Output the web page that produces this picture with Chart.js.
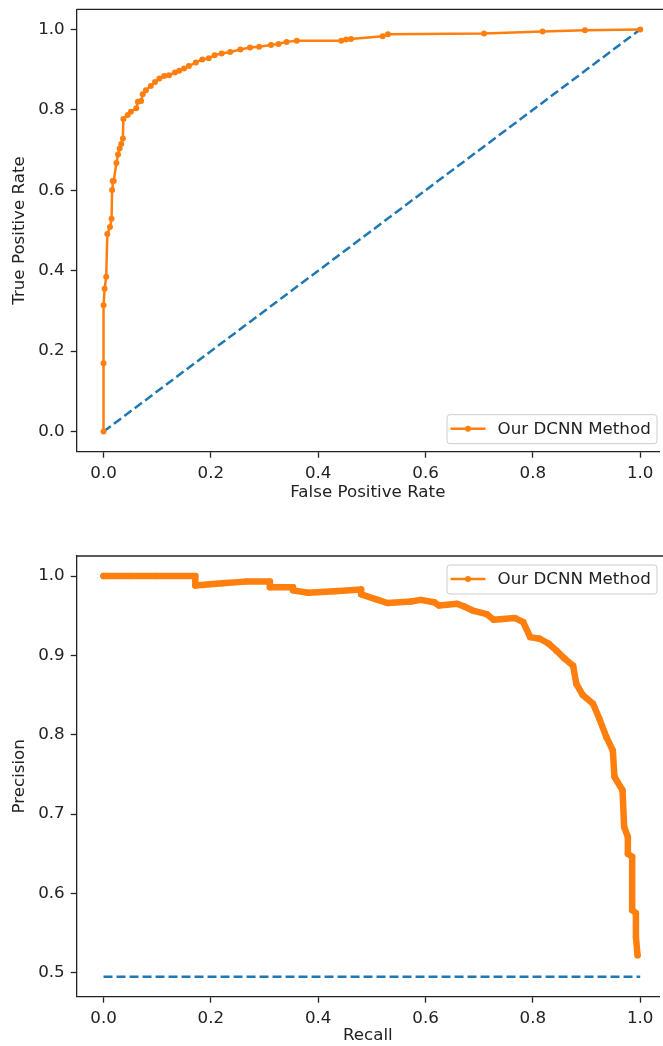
<!DOCTYPE html>
<html>
<head>
<meta charset="utf-8">
<script src="https://cdn.jsdelivr.net/npm/chart.js@4"></script>
<style>
  html, body { margin: 0; padding: 0; background: #fff; overflow: hidden; width: 663px; height: 1046px; }
  canvas { position: absolute; left: 0; }
  #rocChart { top: -13px; }
  #prChart { top: 530px; }
</style>
</head>
<body>
<canvas id="rocChart" width="663" height="543"></canvas>
<canvas id="prChart" width="663" height="516"></canvas>
<script>
// ROC curve points
const rocFpr = [0, 0, 0, 0.002, 0.005, 0.007, 0.012, 0.015, 0.016, 0.017, 0.019, 0.024, 0.027, 0.030, 0.033, 0.036, 0.037,
  0.045, 0.051, 0.061, 0.064, 0.070, 0.073, 0.079, 0.088, 0.096, 0.104, 0.113, 0.122, 0.133, 0.141, 0.150, 0.159,
  0.172, 0.184, 0.196, 0.207, 0.220, 0.236, 0.255, 0.273, 0.290, 0.312, 0.326, 0.341, 0.360, 0.443, 0.452, 0.461,
  0.520, 0.530, 0.709, 0.818, 0.897, 1.0];
const rocTpr = [0, 0.17, 0.314, 0.355, 0.385, 0.491, 0.509, 0.529, 0.601, 0.623, 0.623, 0.668, 0.689, 0.704, 0.715, 0.729, 0.777,
  0.787, 0.795, 0.804, 0.820, 0.822, 0.839, 0.849, 0.859, 0.869, 0.878, 0.884, 0.886, 0.893, 0.897, 0.903, 0.909,
  0.918, 0.925, 0.928, 0.936, 0.940, 0.944, 0.950, 0.955, 0.957, 0.961, 0.964, 0.969, 0.972, 0.972, 0.975, 0.976,
  0.983, 0.988, 0.990, 0.995, 0.998, 1.0];
const chanceX = [0, 1];
const chanceY = [0, 1];

// Precision-recall curve points
const prRecall = [0, 0.05, 0.10, 0.171, 0.171, 0.221, 0.264, 0.31, 0.31, 0.353, 0.353, 0.381, 0.431, 0.48, 0.48, 0.511,
  0.529, 0.573, 0.591, 0.616, 0.625, 0.659, 0.671, 0.69, 0.714, 0.727, 0.767, 0.782, 0.795, 0.813, 0.829, 0.844,
  0.859, 0.875, 0.881, 0.893, 0.912, 0.924, 0.937, 0.949, 0.952, 0.967, 0.970, 0.977, 0.977, 0.985, 0.985, 0.992,
  0.992, 0.995];
const prPrecision = [1.0, 1.0, 1.0, 1.0, 0.988, 0.991, 0.993, 0.993, 0.986, 0.986, 0.982, 0.979, 0.981, 0.983, 0.977, 0.970,
  0.966, 0.968, 0.970, 0.967, 0.963, 0.965, 0.962, 0.956, 0.952, 0.945, 0.947, 0.942, 0.923, 0.921, 0.915, 0.906,
  0.896, 0.887, 0.864, 0.850, 0.839, 0.820, 0.797, 0.780, 0.747, 0.730, 0.684, 0.671, 0.650, 0.646, 0.579, 0.575,
  0.545, 0.522];
const baselineX = [0, 1];
const baselineY = [0.495, 0.495];

const xTicks = [0, 0.2, 0.4, 0.6, 0.8, 1.0];
const rocYTicks = [0, 0.2, 0.4, 0.6, 0.8, 1.0];
const prYTicks = [0.5, 0.6, 0.7, 0.8, 0.9, 1.0];
const seriesLabel = 'Our DCNN Method';

// the original axes run to 1.05, past the right edge of the picture;
// the canvas stops at the value that sits on that edge
const X_MIN = -0.05;
const X_MAX_VISIBLE = 1.035;

const ORANGE = '#ff7f0e';
const BLUE = '#1f77b4';
const INK = '#222222';
const FONT = 16.7;

Chart.defaults.font.family = '"DejaVu Sans", sans-serif';
Chart.defaults.font.size = FONT;
Chart.defaults.color = INK;

const toPoints = (xs, ys) => xs.map((x, i) => ({ x: x, y: ys[i] }));

// top spine
const frame = {
  id: 'frame',
  afterDraw(chart) {
    const { ctx, chartArea: a } = chart;
    ctx.save();
    ctx.strokeStyle = INK;
    ctx.lineWidth = 1.3;
    ctx.beginPath();
    ctx.moveTo(a.left, a.top);
    ctx.lineTo(chart.width, a.top);
    ctx.stroke();
    ctx.restore();
  }
};

// matplotlib-like legend box inside the axes
const legendBox = {
  id: 'legendBox',
  afterDraw(chart, args, opts) {
    const { ctx, chartArea, scales } = chart;
    const w = 210, h = 29;
    const x = scales.x.getPixelForValue(1.0) + 16.3 - w;
    const y = opts.corner === 'top' ? chartArea.top + 8.5 : chartArea.bottom - 8.5 - h;
    ctx.save();
    ctx.beginPath();
    ctx.roundRect(x + 0.5, y + 0.5, w, h, 3);
    ctx.fillStyle = 'rgba(255,255,255,0.8)';
    ctx.fill();
    ctx.strokeStyle = '#cccccc';
    ctx.lineWidth = 1;
    ctx.stroke();
    const cy = y + h / 2;
    ctx.strokeStyle = ORANGE;
    ctx.lineWidth = 2.5;
    ctx.beginPath();
    ctx.moveTo(x + 4, cy);
    ctx.lineTo(x + 39, cy);
    ctx.stroke();
    ctx.fillStyle = ORANGE;
    ctx.beginPath();
    ctx.arc(x + 21.5, cy, 3, 0, Math.PI * 2);
    ctx.fill();
    ctx.fillStyle = INK;
    ctx.font = FONT + 'px "DejaVu Sans"';
    ctx.textBaseline = 'middle';
    ctx.fillText(chart.data.datasets[0].label, x + 51, cy + 1);
    ctx.restore();
  }
};

function axis(ticks, min, max, title, titlePad, size, horizontal) {
  return {
    type: 'linear',
    min: min,
    max: max,
    afterBuildTicks: scale => { scale.ticks = ticks.map(v => ({ value: v })); },
    afterFit: scale => {
      if (horizontal) {
        scale.height = size;
        // labels fit inside the axes margin; no extra room needed
        scale.paddingLeft = 0;
        scale.paddingRight = 0;
      } else {
        scale.width = size;
      }
    },
    ticks: {
      autoSkip: false,
      maxRotation: 0,
      padding: 6,
      color: INK,
      callback: v => v.toFixed(1)
    },
    grid: {
      display: true,
      drawOnChartArea: false,
      drawTicks: true,
      tickLength: 6,
      tickColor: INK,
      tickWidth: 1.3
    },
    border: { display: true, color: INK, width: 1.3 },
    title: {
      display: true,
      text: title,
      color: INK,
      // bottom titles use padding.bottom, left titles padding.top
      padding: horizontal ? { top: 0, bottom: titlePad } : { top: titlePad, bottom: 0 }
    }
  };
}

function makeChart(id, datasets, opts) {
  return new Chart(document.getElementById(id), {
    type: 'line',
    data: { datasets: datasets },
    options: {
      responsive: false,
      animation: false,
      events: [],
      layout: { padding: { left: 0, right: 0, top: opts.padTop, bottom: 0 } },
      plugins: {
        legend: { display: false },
        tooltip: { enabled: false },
        legendBox: { corner: opts.corner }
      },
      scales: {
        x: axis(xTicks, X_MIN, X_MAX_VISIBLE, opts.xTitle, opts.xTitlePad, opts.xAxisHeight, true),
        y: axis(opts.yTicks, opts.yMin, opts.yMax, opts.yTitle, 10, 76.7, false)
      }
    },
    plugins: [frame, legendBox]
  });
}

makeChart('rocChart', [
  {
    label: seriesLabel,
    data: toPoints(rocFpr, rocTpr),
    borderColor: ORANGE,
    backgroundColor: ORANGE,
    borderWidth: 2.5,
    pointRadius: 3,
    pointBorderWidth: 0,
    tension: 0
  },
  {
    label: 'chance',
    data: toPoints(chanceX, chanceY),
    borderColor: BLUE,
    borderDash: [9, 4],
    borderWidth: 2.5,
    pointRadius: 0,
    tension: 0
  }
], {
  padTop: 22.3,
  xAxisHeight: 543 - 464.7,
  xTitle: 'False Positive Rate',
  xTitlePad: 27,
  yTitle: 'True Positive Rate',
  yTicks: rocYTicks,
  yMin: -0.05,
  yMax: 1.05,
  corner: 'bottom'
});

makeChart('prChart', [
  {
    label: seriesLabel,
    data: toPoints(prRecall, prPrecision),
    borderColor: ORANGE,
    backgroundColor: ORANGE,
    borderWidth: 6.5,
    borderJoinStyle: 'round',
    borderCapStyle: 'round',
    pointRadius: 3.2,
    pointBorderWidth: 0,
    tension: 0
  },
  {
    label: 'baseline',
    data: toPoints(baselineX, baselineY),
    borderColor: BLUE,
    borderDash: [9, 4],
    borderWidth: 2.5,
    pointRadius: 0,
    tension: 0
  }
], {
  padTop: 26,
  xAxisHeight: 516 - 466.7,
  xTitle: 'Recall',
  xTitlePad: 0,
  yTitle: 'Precision',
  yTicks: prYTicks,
  yMin: 0.4697,
  yMax: 1.0253,
  corner: 'top'
});
</script>
</body>
</html>
